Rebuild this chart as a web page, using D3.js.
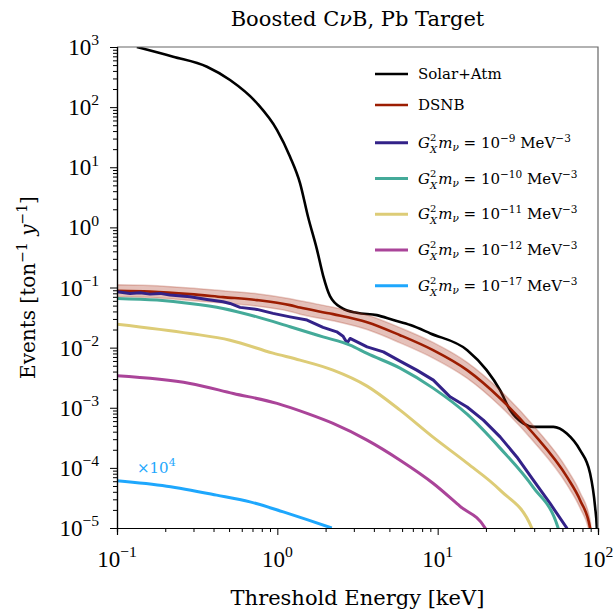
<!DOCTYPE html>
<html>
<head>
<meta charset="utf-8">
<script src="https://cdn.jsdelivr.net/npm/d3@7"></script>
<style>
  body { margin: 0; background: #fff; }
  text { font-family: "DejaVu Serif", "Liberation Serif", serif; fill: #000; }
  text.tick-label { font-family: "Liberation Serif", "DejaVu Serif", serif; }
</style>
</head>
<body>
<div id="chart"></div>
<script>
// Solar + atmospheric background
const solarE = [0.133, 0.224, 0.364, 0.507, 0.747, 0.996, 1.20, 1.385, 1.554, 1.77, 1.93, 2.13, 2.55, 3.13, 4.17, 5.29, 6.76, 9.01, 15.3, 20.2, 24.5, 28.3, 34.2, 39.5, 52.7, 63.9, 77.3, 89.3, 95.9, 98.3, 99.5];
const solarN = [1000, 690, 470, 282, 116, 41.6, 15.0, 5.46, 1.50, 0.419, 0.158, 0.072, 0.0449, 0.0379, 0.0347, 0.0287, 0.0237, 0.0172, 0.00908, 0.00422, 0.00196, 0.000912, 0.000548, 0.000481, 0.000481, 0.000373, 0.000197, 8.07e-5, 2.24e-5, 1e-5, 2e-6];

// DSNB with its uncertainty band
const dsnbE = [0.1, 0.1607, 0.2854, 0.4585, 0.7468, 1.200, 1.385, 2.226, 3.628, 5.827, 9.361, 15.26, 24.51, 39.37, 64.18, 77.33, 89.27, 92];
const dsnbN = [0.0881, 0.0855, 0.0776, 0.0692, 0.0617, 0.0509, 0.0464, 0.0361, 0.0265, 0.0161, 0.00908, 0.00422, 0.00144, 0.000377, 7.0e-5, 2.9e-5, 1e-5, 5e-6];
const dsnbHi = [0.111, 0.108, 0.098, 0.088, 0.079, 0.065, 0.060, 0.047, 0.035, 0.0215, 0.0122, 0.0057, 0.00195, 0.00051, 9.5e-5, 3.9e-5, 1.35e-5, 6.8e-6];
const dsnbLo = [0.070, 0.068, 0.061, 0.055, 0.049, 0.040, 0.036, 0.028, 0.020, 0.0120, 0.0067, 0.0031, 0.00107, 0.00028, 5.2e-5, 2.15e-5, 7.4e-6, 3.7e-6];

// G_X^2 m_nu = 1e-9 (noisy MC curve)
const g9E = [0.1, 0.1205, 0.1391, 0.1607, 0.1854, 0.2141, 0.2854, 0.364, 0.4585, 0.507, 0.5853, 0.7468, 0.9401, 1.200, 1.532, 1.928, 2.348, 2.570, 2.722, 2.842, 3.628, 4.585, 5.827, 7.406, 9.40, 11.95, 15.26, 19.28, 24.51, 31.16, 39.5, 50.24, 63.9, 70];
const g9N = [0.0848, 0.0798, 0.0817, 0.0776, 0.0798, 0.0748, 0.0700, 0.0634, 0.0578, 0.0543, 0.0467, 0.0432, 0.0371, 0.0325, 0.0287, 0.0217, 0.0183, 0.0155, 0.0119, 0.0142, 0.0103, 0.00851, 0.00596, 0.00422, 0.00288, 0.00152, 0.00103, 0.000622, 0.000328, 0.000152, 6.24e-5, 2.56e-5, 1e-5, 3e-6];

// 1e-10
const g10E = [0.1, 0.1776, 0.2854, 0.4585, 0.7468, 1.200, 1.928, 2.842, 3.628, 5.827, 9.361, 15.26, 24.51, 39.37, 56.4, 62];
const g10N = [0.0659, 0.0617, 0.0543, 0.0449, 0.0325, 0.0222, 0.0151, 0.0110, 0.0080, 0.00456, 0.00212, 0.000782, 0.000213, 4.78e-5, 1e-5, 4e-6];

// 1e-11
const g11E = [0.1, 0.2854, 0.507, 0.9401, 1.385, 2.226, 3.628, 5.827, 9.36, 15.26, 24.51, 38.64, 42];
const g11N = [0.0246, 0.0172, 0.0133, 0.00809, 0.00619, 0.00422, 0.00229, 0.000912, 0.000324, 0.000120, 4.26e-5, 1e-5, 5e-6];

// 1e-12
const g12E = [0.1, 0.2854, 0.5315, 0.9956, 1.532, 2.226, 3.628, 5.827, 9.40, 13.80, 19.76, 21.5];
const g12N = [0.0034, 0.00254, 0.00173, 0.00118, 0.000804, 0.000548, 0.000289, 0.000134, 5.5e-5, 2.29e-5, 1e-5, 5e-6];

// 1e-17, plotted multiplied by 1e4
const g17E = [0.1, 0.2042, 0.4182, 0.6755, 1.090, 1.532, 2.185];
const g17N = [6.08e-5, 4.95e-5, 3.52e-5, 2.72e-5, 1.85e-5, 1.38e-5, 1.0e-5];

const xMajor = [0.1, 1, 10, 100];
const xMajorExp = ["\u22121", "0", "1", "2"];
const yMajor = [1e-5, 1e-4, 1e-3, 1e-2, 1e-1, 1, 10, 100, 1000];
const yMajorExp = ["\u22125", "\u22124", "\u22123", "\u22122", "\u22121", "0", "1", "2", "3"];
const couplingExp = ["\u22129", "\u221210", "\u221211", "\u221212", "\u221217"];

const width = 616;
const height = 612;
const margin = { top: 47, right: 18, bottom: 84, left: 117 };

const svg = d3.select("#chart").append("svg")
    .attr("width", width)
    .attr("height", height);

const x = d3.scaleLog().domain([0.1, 100]).range([margin.left, width - margin.right]);
const y = d3.scaleLog().domain([1e-5, 1e3]).range([height - margin.bottom, margin.top]);

svg.append("clipPath").attr("id", "plotclip")
  .append("rect")
    .attr("x", margin.left).attr("y", margin.top)
    .attr("width", width - margin.left - margin.right)
    .attr("height", height - margin.top - margin.bottom);

const plot = svg.append("g").attr("clip-path", "url(#plotclip)");

function pairs(es, ns) { return es.map((e, i) => [e, ns[i]]); }

const line = d3.line()
    .x(d => x(d[0]))
    .y(d => y(d[1]))
    .curve(d3.curveMonotoneX);

const jagged = d3.line()
    .x(d => x(d[0]))
    .y(d => y(d[1]));

// background first
plot.append("path")
    .attr("d", line(pairs(solarE, solarN)))
    .attr("fill", "none").attr("stroke", "#000").attr("stroke-width", 2.6);

// DSNB band + line
const band = d3.area()
    .x(d => x(d[0]))
    .y0(d => y(d[1]))
    .y1(d => y(d[2]))
    .curve(d3.curveMonotoneX);
plot.append("path")
    .attr("d", band(dsnbE.map((e, i) => [e, dsnbLo[i], dsnbHi[i]])))
    .attr("fill", "#a8321c").attr("fill-opacity", 0.3)
    .attr("stroke", "#a8321c").attr("stroke-opacity", 0.25).attr("stroke-width", 1.5);
plot.append("path")
    .attr("d", line(pairs(dsnbE, dsnbN)))
    .attr("fill", "none").attr("stroke", "#9c1d02").attr("stroke-width", 2.6);

const series = [
  { e: g9E, n: g9N, color: "#332288", gen: jagged },
  { e: g10E, n: g10N, color: "#44aa99", gen: line },
  { e: g11E, n: g11N, color: "#ddcc77", gen: line },
  { e: g12E, n: g12N, color: "#aa4499", gen: line },
  { e: g17E, n: g17N, color: "#1ea7fd", gen: line }
];

series.forEach(s => {
  plot.append("path")
      .attr("d", s.gen(pairs(s.e, s.n)))
      .attr("fill", "none")
      .attr("stroke", s.color)
      .attr("stroke-width", 3)
      .attr("stroke-linejoin", "round");
});

svg.append("text")
    .attr("x", 137).attr("y", 473)
    .attr("font-size", "15px")
    .style("fill", "#1ea7fd")
    .call(t => {
      t.append("tspan").text("\u00d710");
      t.append("tspan").attr("font-size", "11px").attr("dy", -7).text("4");
    });

// frame
const x0 = margin.left, x1 = width - margin.right, y0 = margin.top, y1 = height - margin.bottom;
svg.append("path")
    .attr("d", `M${x0},${y0}H${x1}V${y1}`)
    .attr("fill", "none").attr("stroke", "#666").attr("stroke-width", 1.2);

// axes: majors, then minors
function minors(lo, hi) {
  const out = [];
  for (let p = lo; p < hi; p++) for (let k = 2; k <= 9; k++) out.push(k * Math.pow(10, p));
  return out;
}

const xAxis = svg.append("g").attr("transform", `translate(0,${y1})`);
xAxis.call(d3.axisBottom(x).tickValues(xMajor).tickSize(7).tickFormat(""));
xAxis.append("g").call(d3.axisBottom(x).tickValues(minors(-1, 2)).tickSize(4).tickFormat(""));
xAxis.selectAll(".domain").attr("stroke", "#000").attr("stroke-width", 1.2);
xAxis.selectAll(".tick line").attr("stroke", "#000");

const yAxis = svg.append("g").attr("transform", `translate(${x0},0)`);
yAxis.call(d3.axisLeft(y).tickValues(yMajor).tickSize(7).tickFormat(""));
yAxis.append("g").call(d3.axisLeft(y).tickValues(minors(-5, 3)).tickSize(4).tickFormat(""));
yAxis.selectAll(".domain").attr("stroke", "#000").attr("stroke-width", 1.2);
yAxis.selectAll(".tick line").attr("stroke", "#000");

// power-of-ten labels
function powLabel(sel, exp, size) {
  sel.append("tspan").text("10");
  sel.append("tspan").attr("font-size", (size * 0.68) + "px").attr("dy", -size * 0.42).text(exp);
}

xMajor.forEach((v, i) => {
  svg.append("text")
      .attr("class", "tick-label")
      .attr("x", x(v)).attr("y", y1 + 39)
      .attr("text-anchor", "middle")
      .attr("font-size", "23px")
      .call(t => powLabel(t, xMajorExp[i], 23));
});

yMajor.forEach((v, i) => {
  svg.append("text")
      .attr("class", "tick-label")
      .attr("x", x0 - 18).attr("y", y(v) + 8)
      .attr("text-anchor", "end")
      .attr("font-size", "23px")
      .call(t => powLabel(t, yMajorExp[i], 23));
});

// titles
svg.append("text")
    .attr("x", (x0 + x1) / 2).attr("y", 26)
    .attr("text-anchor", "middle")
    .attr("font-size", "21px")
    .call(t => {
      t.append("tspan").text("Boosted C");
      t.append("tspan").attr("font-style", "italic").text("\u03bd");
      t.append("tspan").text("B, Pb Target");
    });

svg.append("text")
    .attr("x", (x0 + x1) / 2).attr("y", 605)
    .attr("text-anchor", "middle")
    .attr("font-size", "21px")
    .text("Threshold Energy [keV]");

svg.append("text")
    .attr("transform", `translate(35,${(y0 + y1) / 2}) rotate(-90)`)
    .attr("text-anchor", "middle")
    .attr("font-size", "20px")
    .call(t => {
      t.append("tspan").text("Events [ton");
      t.append("tspan").attr("font-size", "14px").attr("dy", -8).text("\u22121");
      t.append("tspan").attr("dy", 8).text(" ");
      t.append("tspan").attr("font-style", "italic").text("y");
      t.append("tspan").attr("font-size", "14px").attr("dy", -8).text("\u22121");
      t.append("tspan").attr("dy", 8).text("]");
    });

// legend
const legendY = [74, 105, 142.7, 178.5, 214.2, 250, 285.7];
const legendColors = ["#000", "#9c1d02", "#332288", "#44aa99", "#ddcc77", "#aa4499", "#1ea7fd"];
const legend = svg.append("g");

legendY.forEach((ly, i) => {
  legend.append("line")
      .attr("x1", 375).attr("x2", 408)
      .attr("y1", ly).attr("y2", ly)
      .attr("stroke", legendColors[i])
      .attr("stroke-width", i < 2 ? 2.6 : 3);
  const t = legend.append("text")
      .attr("x", 418).attr("y", ly + 5)
      .attr("font-size", "15px");
  if (i === 0) { t.text("Solar+Atm"); return; }
  if (i === 1) { t.text("DSNB"); return; }
  t.append("tspan").attr("font-style", "italic").text("G");
  t.append("tspan").attr("font-size", "10px").attr("dy", -7).text("2");
  t.append("tspan").attr("font-size", "10px").attr("font-style", "italic").attr("dx", -6.3).attr("dy", 12).text("X");
  t.append("tspan").attr("font-style", "italic").attr("dx", 1).attr("dy", -5).text("m");
  t.append("tspan").attr("font-size", "10.5px").attr("font-style", "italic").attr("dy", 3).text("\u03bd");
  t.append("tspan").attr("dy", -3).text(" = 10");
  t.append("tspan").attr("font-size", "10.5px").attr("dy", -6).text(couplingExp[i - 2]);
  t.append("tspan").attr("dy", 6).text(" MeV");
  t.append("tspan").attr("font-size", "10.5px").attr("dy", -6).text("\u22123");
});
</script>
</body>
</html>
